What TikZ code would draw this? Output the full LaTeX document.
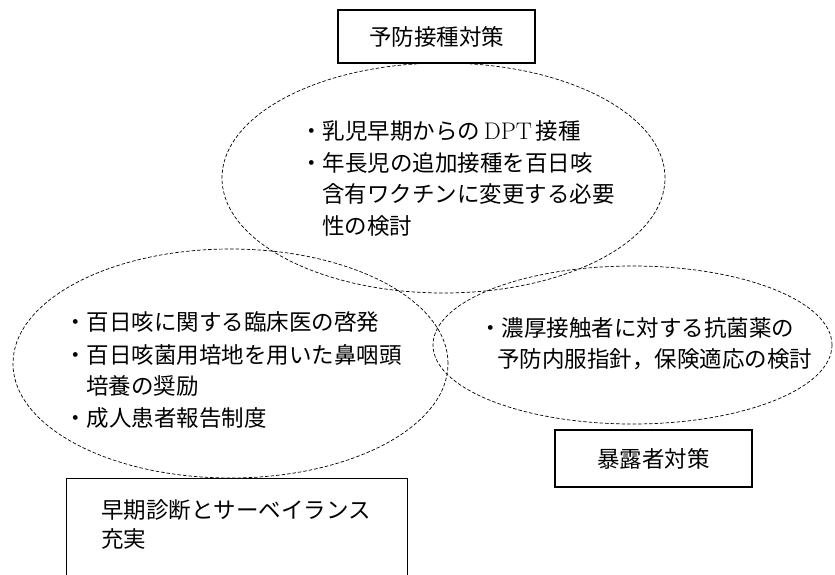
\documentclass[tikz,border=0pt]{standalone}
\usepackage{fontspec}
\newfontfamily\jp{Noto Sans CJK JP}
\newcommand\jptext{\jp\fontsize{22.5}{30}\selectfont}
\usetikzlibrary{shapes.geometric}
\begin{document}
\begin{tikzpicture}[x=1pt,y=-1pt,
  ell/.style={ellipse, draw, line width=0.7pt, dash pattern=on 3.5pt off 2pt, inner sep=0pt},
  box/.style={rectangle, draw, line width=1.1pt, inner sep=0pt, font=\jptext},
  txt/.style={anchor=base west, inner sep=0pt, font=\jptext}]
\useasboundingbox (0,0) rectangle (835,574);
\clip (0,0) rectangle (835,574);
\fill[white] (0,0) rectangle (835,574);

% ellipses
\node[ell, minimum width=443pt, minimum height=230pt] (e1) at (443.5,178) {};
\node[ell, minimum width=435pt, minimum height=229pt] (e2) at (230.5,363.5) {};
\node[ell, minimum width=399pt, minimum height=158pt] (e3) at (632.5,345) {};

% boxes
\node[box, minimum width=197pt, minimum height=53pt] (yobo) at (436.5,36.5) {予防接種対策};
\node[box, minimum width=197pt, minimum height=57pt] (bakuro) at (653.5,458.5) {暴露者対策};
\node[box, minimum width=341pt, minimum height=130pt, anchor=north west] (soki) at (66,478) {};

% top ellipse text
\node[txt] (t1) at (300,139.5) {・乳児早期からの\,{\rmfamily\fontsize{24}{30}\selectfont DPT}\,接種};
\node[txt] (t2) at (300,171) {・年長児の追加接種を百日咳};
\node[txt] (t3) at (322,202.5) {含有ワクチンに変更する必要};
\node[txt] (t4) at (322,234.5) {性の検討};

% left ellipse text
\node[txt] (l1) at (64,330.5) {・百日咳に関する臨床医の啓発};
\node[txt] (l2) at (64,363) {・百日咳菌用培地を用いた鼻咽頭};
\node[txt] (l3) at (86,394.5) {培養の奨励};
\node[txt] (l4) at (64,426.5) {・成人患者報告制度};

% right ellipse text
\node[txt] (r1) at (479,336.5) {・濃厚接触者に対する抗菌薬の};
\node[txt] (r2) at (497,367.5) {予防内服指針，保険適応の検討};

% bottom-left box text
\node[txt] (s1) at (101,518.5) {早期診断とサーベイランス};
\node[txt] (s2) at (101,547.5) {充実};
\end{tikzpicture}
\end{document}
